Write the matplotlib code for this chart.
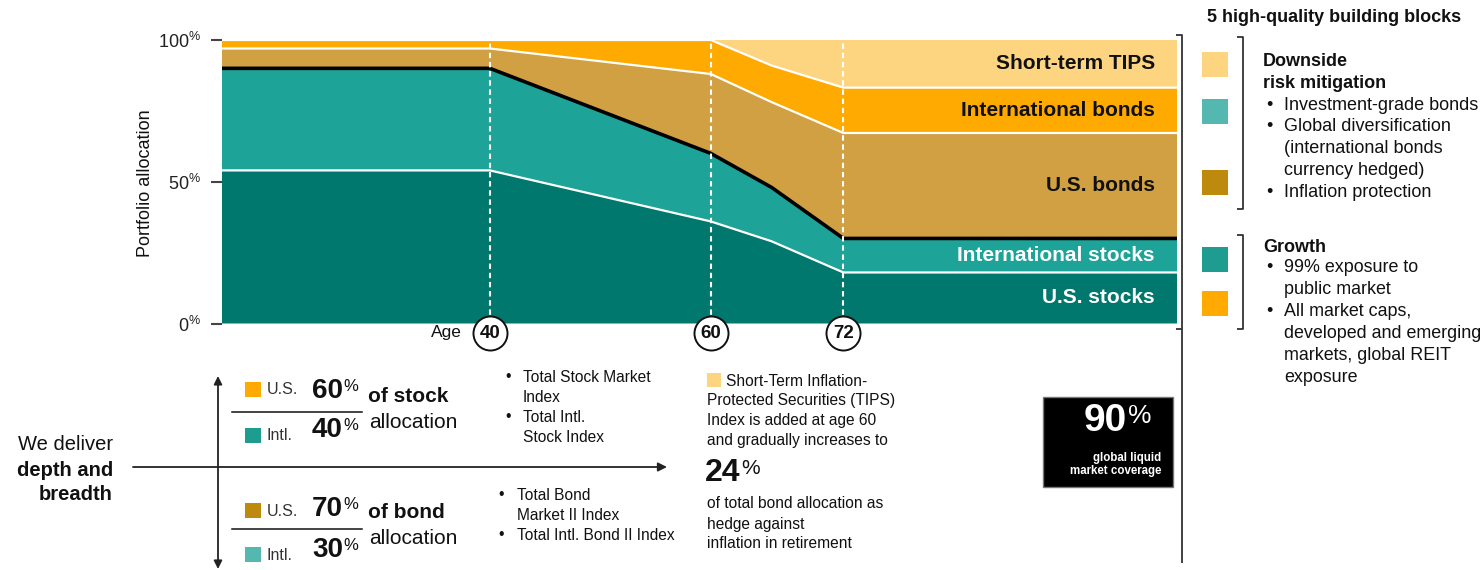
import matplotlib
matplotlib.use("Agg")
import matplotlib.pyplot as plt
import numpy as np
from matplotlib import transforms
from matplotlib.patches import Rectangle

plt.rcParams["font.family"] = ["Liberation Sans", "DejaVu Sans"]
plt.rcParams["mathtext.fontset"] = "custom"
plt.rcParams["mathtext.rm"] = "Liberation Sans"

# glide path: share of portfolio (%) by investor age
ages = [15.75, 40, 60, 65.5, 72, 102.2]
us_stocks = [54, 54, 36, 29, 18, 18]
intl_stocks = [36, 36, 24, 19, 12, 12]
us_bonds = [7, 7, 28, 30.1, 37.2, 37.2]
intl_bonds = [3, 3, 12, 12.9, 16, 16]
tips = [0, 0, 0, 9, 16.8, 16.8]
layer_names = ["U.S. stocks", "International stocks", "U.S. bonds",
               "International bonds", "Short-term TIPS"]
marked_ages = [40, 60, 72]
yticks = [0, 50, 100]

stock_split = [("U.S.", 60), ("Intl.", 40)]
bond_split = [("U.S.", 70), ("Intl.", 30)]
tips_share = 24
market_coverage = 90

layer_colors = ["#00786E", "#1EA398", "#D0A042", "#FFAA00", "#FDD581"]
C_TIPS, C_LTEAL, C_BROWN, C_TEAL, C_ORANGE = "#FDD581", "#55B8B0", "#BE8A0E", "#1E9C90", "#FFAA00"
INK = "#111111"

W, H = 1484, 570
fig = plt.figure(figsize=(W / 100, H / 100), dpi=100)


def px_rect(left, top, right, bottom):
    return [left / W, 1 - bottom / H, (right - left) / W, (bottom - top) / H]


ax = fig.add_axes(px_rect(222, 40, 1177, 323.5))
ov = fig.add_axes([0, 0, 1, 1], zorder=5)
ov.set_xlim(0, W)
ov.set_ylim(H, 0)
ov.axis("off")
ov.patch.set_alpha(0)

# stacked areas + boundary lines
layers = [us_stocks, intl_stocks, us_bonds, intl_bonds, tips]
ax.stackplot(ages, *layers, colors=layer_colors, lw=0)
tops = np.cumsum(layers, axis=0)
for i, top in enumerate(tops[:4]):
    if i == 1:
        ax.plot(ages, top, color="black", lw=2.6, zorder=4)
    else:
        ax.plot(ages, top, color="white", lw=1.6, zorder=3)

for a in marked_ages:
    ax.plot([a, a], [0, 100], color="white", lw=1.5, dashes=(2.6, 1.8), zorder=5)

ax.set_xlim(ages[0], ages[-1])
ax.set_ylim(0, 100)
for s in ax.spines.values():
    s.set_visible(False)
ax.set_xticks([])
ax.set_yticks(yticks)
ax.set_yticklabels([f"{v}$^{{\\%}}$" for v in yticks])
ax.tick_params(axis="y", length=8, width=1.5, color="#444444", pad=7,
               labelsize=13, labelcolor="#222222")

# layer names at the right end of the glide path
bottoms = np.vstack([np.zeros(len(ages)), tops[:4]])
for i, name in enumerate(layer_names):
    mid = bottoms[i][-1] + layers[i][-1] / 2
    ax.text(ages[-1] - 2, mid, name, ha="right", va="center", fontsize=15,
            weight="bold", color="white" if i < 2 else INK, zorder=6)

# age markers below the axis
trans = transforms.blended_transform_factory(ax.transData, ax.transAxes)
cy = (323.5 - 333) / 283.5
for a in marked_ages:
    ax.plot([a], [cy], "o", ms=24.5, mfc="white", mec=INK, mew=1.4,
            transform=trans, clip_on=False, zorder=7)
    ax.text(a, cy, str(a), transform=trans, ha="center", va="center",
            fontsize=13.5, weight="bold", color=INK, zorder=8)
ax.annotate("Age", xy=(marked_ages[0], cy), xycoords=trans, xytext=(-20, 0),
            textcoords="offset points", ha="right", va="center", fontsize=12.5,
            color=INK, annotation_clip=False)

ov.text(146, 183, "Portfolio allocation", rotation=90, ha="center", va="center",
        fontsize=13, color=INK)

# right panel: building blocks
ov.text(1207, 18, "5 high-quality building blocks", fontsize=13, weight="bold",
        va="center", color=INK)
for y0, c in zip([52, 99, 170, 247, 291], [C_TIPS, C_LTEAL, C_BROWN, C_TEAL, C_ORANGE]):
    ov.add_patch(Rectangle((1202, y0), 26, 25, color=c, lw=0))

line_kw = dict(color="#333333", lw=1.3, solid_capstyle="butt")
ov.plot([1176, 1182, 1182], [35, 35, 563], **line_kw)
ov.plot([1176, 1182], [329, 329], **line_kw)
ov.plot([1237, 1243, 1243, 1237], [37, 37, 209, 209], **line_kw)
ov.plot([1237, 1243, 1243, 1237], [235, 235, 329, 329], **line_kw)


def bullet_block(x_bullet, x_text, y0, step, lines, size):
    for k, (txt, bullet) in enumerate(lines):
        y = y0 + k * step
        if bullet:
            ov.text(x_bullet, y, "•", fontsize=size, va="center", color=INK)
        ov.text(x_text, y, txt, fontsize=size, va="center", color=INK)


ov.text(1263, 62, "Downside", fontsize=13, weight="bold", va="center", color=INK)
ov.text(1263, 83, "risk mitigation", fontsize=13, weight="bold", va="center", color=INK)
bullet_block(1266, 1284, 105, 21.8, [
    ("Investment-grade bonds", True), ("Global diversification", True),
    ("(international bonds", False), ("currency hedged)", False),
    ("Inflation protection", True)], 13)
ov.text(1263, 247, "Growth", fontsize=13, weight="bold", va="center", color=INK)
bullet_block(1266, 1284, 268, 22, [
    ("99% exposure to", True), ("public market", False), ("All market caps,", True),
    ("developed and emerging", False), ("markets, global REIT", False),
    ("exposure", False)], 12.9)

# bottom left: depth and breadth
ov.text(113, 445, "We deliver", ha="right", va="center", fontsize=14.5, color=INK)
ov.text(113, 470, "depth and", ha="right", va="center", fontsize=14.5, weight="bold", color=INK)
ov.text(113, 495, "breadth", ha="right", va="center", fontsize=14.5, weight="bold", color=INK)
ov.annotate("", xy=(667, 467), xytext=(133, 467),
            arrowprops=dict(arrowstyle="-|>", lw=1.3, color="#222222", mutation_scale=13,
                            shrinkA=0, shrinkB=0))
ov.annotate("", xy=(218, 376), xytext=(218, 569),
            arrowprops=dict(arrowstyle="<|-|>", lw=1.3, color="#222222", mutation_scale=12,
                            shrinkA=0, shrinkB=0))


def big_pct(x, y, value, size, pct_size, color=INK, ha="left"):
    t = ov.text(x, y, str(value), fontsize=size, weight="bold", ha=ha, va="center", color=color)
    ov.annotate("%", xy=(1.02, 0.97), xycoords=t, ha="left", va="top",
                fontsize=pct_size, color=color)
    return t


def split_block(split, colors, y_rows, line_y, word1, word2, word_ys):
    for (name, val), c, (ys, yt) in zip(split, colors, y_rows):
        ov.add_patch(Rectangle((245, ys - 7.5), 16, 15, color=c, lw=0))
        ov.text(267, ys + 1, name, fontsize=11.5, va="center", color="#333333")
        big_pct(312, yt, val, 20, 12)
    ov.plot([232, 362], [line_y, line_y], color=INK, lw=1.1)
    ov.text(368, word_ys[0], word1, fontsize=15, weight="bold", va="center", color=INK)
    ov.text(369, word_ys[1], word2, fontsize=15, va="center", color=INK)


split_block(stock_split, [C_ORANGE, C_TEAL], [(389, 391), (435, 430)], 411.5,
            "of stock", "allocation", (397, 422))
split_block(bond_split, [C_BROWN, C_LTEAL], [(510, 509), (554, 550)], 529,
            "of bond", "allocation", (513, 538))

bullet_block(505, 523, 377, 20, [
    ("Total Stock Market", True), ("Index", False),
    ("Total Intl.", True), ("Stock Index", False)], 11.2)
bullet_block(498, 517, 495, 20, [
    ("Total Bond", True), ("Market II Index", False),
    ("Total Intl. Bond II Index", True)], 11.2)

# TIPS note
ov.add_patch(Rectangle((707, 373), 14, 14, color=C_TIPS, lw=0))
ov.text(726, 381, "Short-Term Inflation-", fontsize=11.2, va="center", color=INK)
for k, txt in enumerate(["Protected Securities (TIPS)", "Index is added at age 60",
                         "and gradually increases to"]):
    ov.text(707, 401 + 20 * k, txt, fontsize=11.2, va="center", color=INK)
big_pct(705, 473, tips_share, 23, 15)
for k, txt in enumerate(["of total bond allocation as", "hedge against",
                         "inflation in retirement"]):
    ov.text(707, 504 + 20 * k, txt, fontsize=11.2, va="center", color=INK)

# market coverage box
ov.add_patch(Rectangle((1043, 397), 130, 90, fc="black", ec="#777777", lw=1))
big_pct(1127, 421, market_coverage, 28, 19, color="white", ha="right")
ov.text(1161, 458, "global liquid", ha="right", va="center", fontsize=8.3,
        weight="bold", color="white")
ov.text(1161, 471, "market coverage", ha="right", va="center", fontsize=8.3,
        weight="bold", color="white")

fig.savefig("out.png", dpi=100)
